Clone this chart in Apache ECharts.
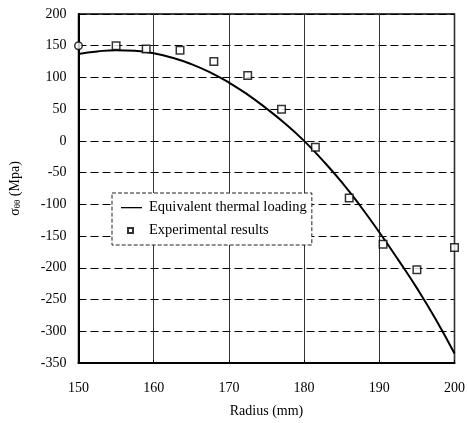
<!DOCTYPE html>
<html lang="en">
<head>
    <meta charset="UTF-8">
    <title></title>
    <style>
        html, body { margin: 0; padding: 0; background: #fff; }
    </style>
</head>
<body>
<div id="main" style="width: 468px;height: 423px"></div>
<script src="https://cdn.jsdelivr.net/npm/echarts@6/dist/echarts.min.js"></script>
<script>
    // curve: equivalent thermal loading
    var curveX = [150, 152.5, 155, 157.5, 160, 162.5, 165, 167.5, 170, 172.5, 175, 177.5,
        180, 182.5, 185, 187.5, 190, 192.5, 195, 197.5, 200];
    var curveY = [137, 141, 143, 142, 138, 131, 121, 108, 92, 73, 51, 27,
        0, -31, -65, -103, -144, -187, -232, -281, -335];

    // experimental points
    var expX = [150, 155, 159, 163.5, 168, 172.5, 177, 181.5, 186, 190.5, 195, 200];
    var expY = [150, 150, 145, 143, 125, 103, 50, -10, -90, -163, -203, -168];

    var seriesNames = ['Equivalent thermal loading', 'Experimental results'];

    var container = document.getElementById('main');
    var myChart = echarts.init(container);

    var font = '"Liberation Serif", "DejaVu Serif", serif';

    var lineData = [];
    for (var i = 0; i < curveX.length; i++) {
        lineData.push([curveX[i], curveY[i]]);
    }
    var expData = [];
    for (var j = 0; j < expX.length; j++) {
        var item = {value: [expX[j], expY[j]]};
        if (j === 0) {
            item.symbol = 'circle';
        }
        expData.push(item);
    }

    var option = {
        animation: false,
        textStyle: {fontFamily: font},
        grid: {
            left: 78,
            right: 12,
            top: 14,
            bottom: 60,
            show: true,
            borderColor: '#000',
            borderWidth: 1.5
        },
        legend: {
            orient: 'vertical',
            left: 112,
            top: 193,
            width: 200,
            padding: [7, 5, 7, 7],
            itemGap: 8,
            itemWidth: 24,
            itemHeight: 12,
            backgroundColor: '#fff',
            borderColor: '#222',
            borderWidth: 1,
            borderType: 'dashed',
            textStyle: {fontFamily: font, fontSize: 14.5, color: '#000'},
            data: [
                {name: seriesNames[0], icon: 'path://M0,0 M24,12 M1,5.5 L22,5.5 L22,6.8 L1,6.8 Z'},
                {name: seriesNames[1], icon: 'path://M0,0 M24,12 M8,3.5 L13,3.5 L13,8.5 L8,8.5 Z'}
            ]
        },
        xAxis: {
            type: 'value',
            min: 150,
            max: 200,
            interval: 10,
            name: 'Radius (mm)',
            nameLocation: 'middle',
            nameGap: 41,
            nameTextStyle: {fontFamily: font, fontSize: 14, color: '#000'},
            axisLine: {onZero: false, lineStyle: {color: '#000', width: 2}},
            axisTick: {show: true, inside: true, length: 3, lineStyle: {color: '#000'}},
            axisLabel: {fontFamily: font, fontSize: 14, color: '#000', margin: 18},
            splitLine: {show: true, lineStyle: {color: '#333', width: 1}}
        },
        yAxis: {
            type: 'value',
            min: -350,
            max: 200,
            interval: 50,
            name: '{a|σ}{s|θθ}{a| (Mpa)}',
            nameLocation: 'middle',
            nameGap: 56,
            nameTextStyle: {
                rich: {
                    a: {fontFamily: font, fontSize: 14, color: '#000'},
                    s: {fontFamily: font, fontSize: 9, color: '#000', verticalAlign: 'bottom', padding: [6, 0, 0, 0]}
                }
            },
            axisLine: {onZero: false, lineStyle: {color: '#000', width: 2}},
            axisTick: {show: true, inside: true, length: 3, lineStyle: {color: '#000'}},
            axisLabel: {fontFamily: font, fontSize: 14, color: '#000', margin: 12},
            splitLine: {show: true, lineStyle: {color: '#000', width: 1, type: [8, 4]}}
        },
        series: [
            {
                name: seriesNames[0],
                type: 'line',
                smooth: true,
                showSymbol: false,
                symbol: 'none',
                lineStyle: {color: '#000', width: 2},
                itemStyle: {color: '#000'},
                data: lineData,
                z: 3
            },
            {
                name: seriesNames[1],
                type: 'scatter',
                symbol: 'rect',
                symbolSize: 7.5,
                itemStyle: {color: '#fff', borderColor: '#000', borderWidth: 1.5},
                data: expData,
                z: 4
            }
        ]
    };

    myChart.setOption(option);
</script>
</body>
</html>
